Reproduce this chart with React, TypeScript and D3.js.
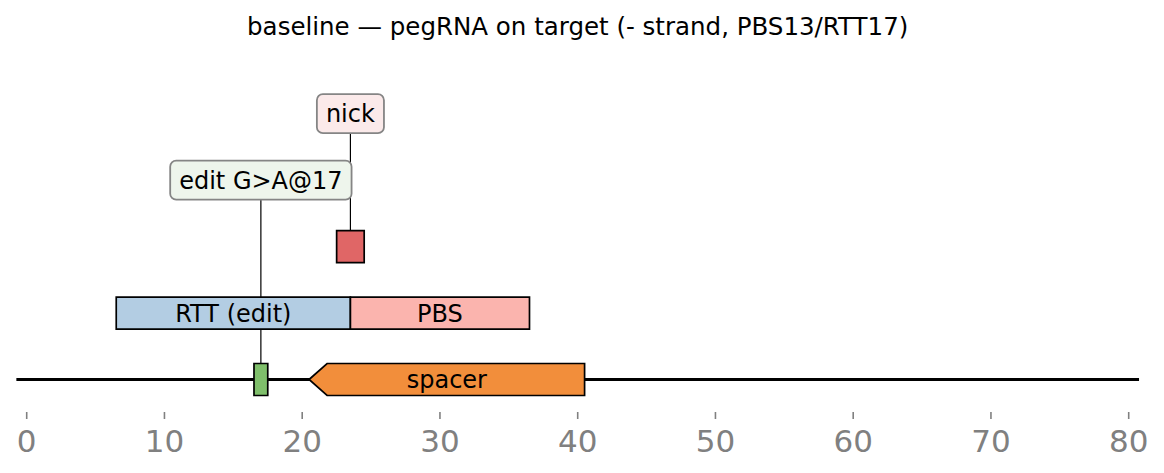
import { useEffect, useRef } from 'react'
import * as d3 from 'd3'

// sequence + features (positions in bp, drawn at half-base edges)
const seqStart = -0.75
const seqEnd = 80.75
const tickValues = [0, 10, 20, 30, 40, 50, 60, 70, 80]

const featureLabels = ['spacer', '', 'RTT (edit)', 'PBS', '']
const featureStarts = [20.5, 16.5, 6.5, 23.5, 22.5]
const featureEnds = [40.5, 17.5, 23.5, 36.5, 24.5]
const featureLevels = [0, 0, 1, 1, 2]
const featureStrands = [-1, 0, 0, 0, 0]
const featureColors = ['#f28e3b', '#7fbf6b', '#b3cde3', '#fbb4ae', '#e06666']

// boxed annotations with a leader line down to a feature
const annotationTexts = ['edit G>A@17', 'nick']
const annotationX = [17, 23.5]
const annotationLevels = [3, 4]
const annotationTargets = [1, 4]
const annotationFills = ['#eef5ec', '#fbeaea']

const title = 'baseline — pegRNA on target (- strand, PBS13/RTT17)'

export default function App() {
  const svgRef = useRef<SVGSVGElement>(null)

  useEffect(() => {
    document.body.style.margin = '0'
    if (!svgRef.current) return
    const svg = d3.select(svgRef.current)
    svg.selectAll('*').remove()

    const font = 'DejaVu Sans, sans-serif'
    const x = d3.scaleLinear().domain([0, 80]).range([26.7, 1128.7])
    const y = d3.scaleLinear().domain([0, 4]).range([379.5, 113.7])
    const featH = 32
    const headLen = 18

    // title
    svg.append('text')
      .attr('x', x((seqStart + seqEnd) / 2))
      .attr('y', 34.5)
      .attr('text-anchor', 'middle')
      .attr('font-family', font)
      .attr('font-size', 24.5)
      .attr('fill', '#000')
      .text(title)

    // axis ticks
    const ax = svg.append('g')
    ax.selectAll('line')
      .data(tickValues)
      .enter()
      .append('line')
      .attr('x1', d => x(d))
      .attr('x2', d => x(d))
      .attr('y1', 412)
      .attr('y2', 419)
      .attr('stroke', '#808080')
      .attr('stroke-width', 1.6)
    ax.selectAll('text')
      .data(tickValues)
      .enter()
      .append('text')
      .attr('x', d => x(d))
      .attr('y', 451.5)
      .attr('text-anchor', 'middle')
      .attr('font-family', font)
      .attr('font-size', 31)
      .attr('fill', '#808080')
      .text(d => d)

    // sequence line
    svg.append('line')
      .attr('x1', x(seqStart))
      .attr('x2', x(seqEnd))
      .attr('y1', y(0))
      .attr('y2', y(0))
      .attr('stroke', '#000')
      .attr('stroke-width', 3.2)

    // annotation leader lines (under everything else)
    annotationTexts.forEach((_, i) => {
      const t = annotationTargets[i]
      svg.append('line')
        .attr('x1', x(annotationX[i]))
        .attr('x2', x(annotationX[i]))
        .attr('y1', y(annotationLevels[i]))
        .attr('y2', y(featureLevels[t]) - featH / 2)
        .attr('stroke', '#000')
        .attr('stroke-width', 1.2)
    })

    // features
    featureLabels.forEach((label, i) => {
      const x0 = x(featureStarts[i])
      const x1 = x(featureEnds[i])
      const cy = y(featureLevels[i])
      const top = cy - featH / 2
      const bot = cy + featH / 2
      let pts: [number, number][]
      if (featureStrands[i] === -1) {
        pts = [[x0, cy], [x0 + headLen, top], [x1, top], [x1, bot], [x0 + headLen, bot]]
      } else if (featureStrands[i] === 1) {
        pts = [[x0, top], [x1 - headLen, top], [x1, cy], [x1 - headLen, bot], [x0, bot]]
      } else {
        pts = [[x0, top], [x1, top], [x1, bot], [x0, bot]]
      }
      svg.append('polygon')
        .attr('points', pts.map(p => p.join(',')).join(' '))
        .attr('fill', featureColors[i])
        .attr('stroke', '#000')
        .attr('stroke-width', 1.7)
        .attr('stroke-linejoin', 'miter')
      if (label) {
        svg.append('text')
          .attr('x', (x0 + x1) / 2)
          .attr('y', cy + 8.5)
          .attr('text-anchor', 'middle')
          .attr('font-family', font)
          .attr('font-size', 24)
          .attr('fill', '#000')
          .text(label)
      }
    })

    // annotation boxes
    annotationTexts.forEach((label, i) => {
      const cx = x(annotationX[i])
      const cy = y(annotationLevels[i])
      const g = svg.append('g')
      const rect = g.append('rect')
      const txt = g.append('text')
        .attr('x', cx)
        .attr('y', cy + 8.5)
        .attr('text-anchor', 'middle')
        .attr('font-family', font)
        .attr('font-size', 24)
        .attr('fill', '#000')
        .text(label)
      const w = (txt.node() as SVGTextElement).getBBox().width + 18
      const h = 39
      rect
        .attr('x', cx - w / 2)
        .attr('y', cy - h / 2)
        .attr('width', w)
        .attr('height', h)
        .attr('rx', 6)
        .attr('ry', 6)
        .attr('fill', annotationFills[i])
        .attr('stroke', '#858585')
        .attr('stroke-width', 1.8)
    })
  }, [])

  return <svg ref={svgRef} width={1164} height={473} style={{ display: 'block', background: '#fff' }} />
}
